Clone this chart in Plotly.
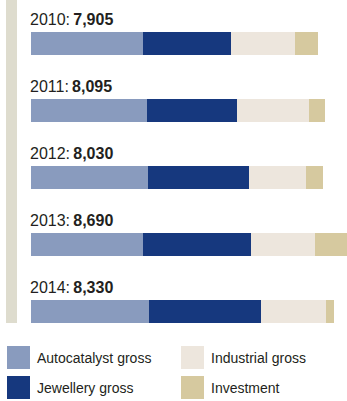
import plotly.graph_objects as go

years = ["2010", "2011", "2012", "2013", "2014"]
totals = ["7,905", "8,095", "8,030", "8,690", "8,330"]
autocatalyst = [3075, 3185, 3225, 3090, 3245]
jewellery = [2420, 2475, 2780, 2950, 3075]
industrial = [1755, 1975, 1570, 1780, 1790]
investment = [655, 460, 455, 870, 220]

series_names = ["Autocatalyst gross", "Jewellery gross", "Industrial gross", "Investment"]
series_colors = ["#899BBE", "#16387E", "#EDE6DD", "#D6C99F"]
series_values = [autocatalyst, jewellery, industrial, investment]

W, H = 347, 401
ML, MR, MT, MB = 31, 0, 10, 56
PW, PH = W - ML - MR, H - MT - MB
FONT = "Liberation Sans, Arial, Helvetica, sans-serif"
TXT = "#231F20"


def px(x):
    return (x - ML) / PW


def py(y):
    return (H - MB - y) / PH


fig = go.Figure()
for name, color, vals in zip(series_names, series_colors, series_values):
    fig.add_trace(go.Bar(
        y=years, x=vals, orientation="h", name=name,
        marker=dict(color=color, line=dict(width=0)),
        width=0.343, showlegend=False, hoverinfo="skip",
    ))

xmax = max(a + b + c + d for a, b, c, d in zip(*series_values))

annotations = []
for i, (yr, tot) in enumerate(zip(years, totals)):
    annotations.append(dict(
        x=0, y=i, xref="x", yref="y", xanchor="left", yanchor="middle",
        yshift=24, xshift=-3, showarrow=False,
        text=f"{yr}:\u2009<b>{tot}</b>",
        font=dict(family=FONT, size=16, color=TXT),
    ))

shapes = [dict(type="rect", xref="paper", yref="paper",
               x0=px(6), x1=px(17), y0=py(323), y1=py(0),
               fillcolor="#DEDCCE", line=dict(width=0), layer="below")]

# legend (2 x 2 grid): column-major order
legend_pos = [(7, 346), (7, 376), (181, 346), (181, 376)]
for (lx, ly), name, color in zip(legend_pos, series_names, series_colors):
    shapes.append(dict(type="rect", xref="paper", yref="paper",
                       x0=px(lx), x1=px(lx + 23), y0=py(ly + 23), y1=py(ly),
                       fillcolor=color, line=dict(width=0)))
    annotations.append(dict(
        x=px(lx + 28), y=py(ly + 11.5), xref="paper", yref="paper",
        xanchor="left", yanchor="middle", showarrow=False, text=name,
        font=dict(family=FONT, size=14, color=TXT),
    ))

fig.update_layout(
    width=W, height=H, barmode="stack",
    margin=dict(l=ML, r=MR, t=MT, b=MB, pad=0),
    paper_bgcolor="white", plot_bgcolor="white",
    xaxis=dict(range=[0, xmax], visible=False, fixedrange=True),
    yaxis=dict(type="category", categoryorder="array", categoryarray=years,
               range=[4.5, -0.5], visible=False, fixedrange=True),
    annotations=annotations, shapes=shapes,
    bargap=0,
)

fig.write_html("out.html", config={"displayModeBar": False})
